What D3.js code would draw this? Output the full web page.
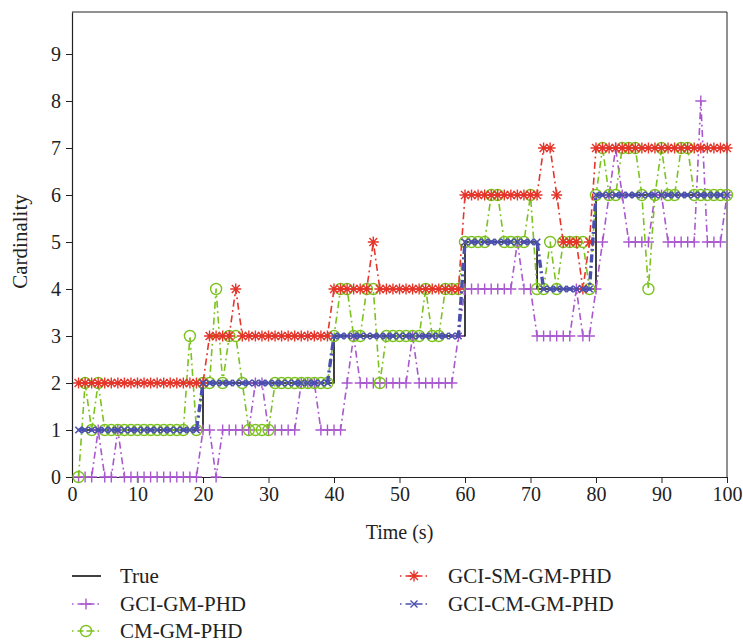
<!DOCTYPE html>
<html><head><meta charset="utf-8">
<script src="https://cdn.jsdelivr.net/npm/d3@7"></script>
<style>
body{margin:0;background:#fff;}
text{font-family:"Liberation Serif","Times New Roman",serif;fill:#222;}
</style>
</head><body>
<svg id="chart" width="743" height="644"></svg>
<script>
// ---------- data ----------
const timeSteps = [1,2,3,4,5,6,7,8,9,10,11,12,13,14,15,16,17,18,19,20,21,22,23,24,25,26,27,28,29,30,31,32,33,34,35,36,37,38,39,40,41,42,43,44,45,46,47,48,49,50,51,52,53,54,55,56,57,58,59,60,61,62,63,64,65,66,67,68,69,70,71,72,73,74,75,76,77,78,79,80,81,82,83,84,85,86,87,88,89,90,91,92,93,94,95,96,97,98,99,100];
const trueCard = [1,1,1,1,1,1,1,1,1,1, 1,1,1,1,1,1,1,1,1,2, 2,2,2,2,2,2,2,2,2,2, 2,2,2,2,2,2,2,2,2,3, 3,3,3,3,3,3,3,3,3,3, 3,3,3,3,3,3,3,3,3,5, 5,5,5,5,5,5,5,5,5,5, 4,4,4,4,4,4,4,4,4,6, 6,6,6,6,6,6,6,6,6,6, 6,6,6,6,6,6,6,6,6,6];
const gciGmPhd = [0,0,0,1,0,0,1,0,0,0, 0,0,0,0,0,0,0,0,0,1, 1,0,1,1,1,1,1,2,2,1, 1,1,1,1,2,2,2,1,1,1, 1,2,3,2,2,2,2,2,2,2, 2,3,2,2,2,2,2,2,3,4, 4,4,4,4,4,4,4,5,4,4, 3,3,3,3,3,3,4,3,3,4, 5,6,7,6,5,5,5,5,6,6, 5,5,5,5,5,8,5,5,5,6];
const cmGmPhd = [0,2,1,2,1,1,1,1,1,1, 1,1,1,1,1,1,1,3,1,2, 2,4,2,3,3,2,1,1,1,1, 2,2,2,2,2,2,2,2,2,3, 4,4,3,3,4,4,2,3,3,3, 3,3,3,4,3,3,4,4,4,5, 5,5,5,6,6,5,5,5,5,6, 4,4,5,4,5,5,5,5,4,6, 7,6,6,7,7,7,6,4,6,7, 6,6,7,7,6,6,6,6,6,6];
const gciSmGmPhd = [2,2,2,2,2,2,2,2,2,2, 2,2,2,2,2,2,2,2,2,2, 3,3,3,3,4,3,3,3,3,3, 3,3,3,3,3,3,3,3,3,4, 4,4,4,4,4,5,4,4,4,4, 4,4,4,4,4,4,4,4,4,6, 6,6,6,6,6,6,6,6,6,6, 6,7,7,6,5,5,5,4,5,7, 7,7,7,7,7,7,7,7,7,7, 7,7,7,7,7,7,7,7,7,7];
const gciCmGmPhd = [1,1,1,1,1,1,1,1,1,1, 1,1,1,1,1,1,1,1,1,2, 2,2,2,2,2,2,2,2,2,2, 2,2,2,2,2,2,2,2,2,3, 3,3,3,3,3,3,3,3,3,3, 3,3,3,3,3,3,3,3,3,5, 5,5,5,5,5,5,5,5,5,5, 5,4,4,4,4,4,4,4,4,6, 6,6,6,6,6,6,6,6,6,6, 6,6,6,6,6,6,6,6,6,6];
const xTicks = [0,10,20,30,40,50,60,70,80,90,100];
const yTicks = [0,1,2,3,4,5,6,7,8,9];
const seriesNames = ["True","GCI-GM-PHD","CM-GM-PHD","GCI-SM-GM-PHD","GCI-CM-GM-PHD"];
const seriesColors = ["#111111","#a957cf","#7cc21f","#e5352b","#4a4fae"];

// ---------- layout ----------
const svg = d3.select("#chart");
const L = 72, R = 727, B = 477, T = 12;
const x = d3.scaleLinear().domain([0,100]).range([L,R]);
const yUnit = 47;
const y = d3.scaleLinear().domain([0,9]).range([B, B-9*yUnit]);
const yAxisScale = d3.scaleLinear().domain([0,(B-T)/yUnit]).range([B,T]);

// frame
svg.append("line").attr("x1",L).attr("x2",R).attr("y1",T).attr("y2",T).attr("stroke","#222").attr("stroke-width",1);
svg.append("line").attr("x1",R).attr("x2",R).attr("y1",T).attr("y2",B).attr("stroke","#222").attr("stroke-width",1);

const gx = svg.append("g").attr("transform",`translate(0,${B})`)
  .call(d3.axisBottom(x).tickValues(xTicks).tickSize(6).tickSizeOuter(0).tickPadding(4));
const gy = svg.append("g").attr("transform",`translate(${L},0)`)
  .call(d3.axisLeft(yAxisScale).tickValues(yTicks).tickSize(6).tickSizeOuter(0).tickPadding(5));
[gx,gy].forEach(g=>{
  g.selectAll("path.domain").attr("stroke","#222").attr("stroke-width",1.2);
  g.selectAll(".tick line").attr("stroke","#222");
  g.selectAll(".tick text").attr("font-size",20).attr("font-family","Liberation Serif").attr("fill","#222");
});

svg.append("text").attr("x",(L+R)/2).attr("y",539).attr("text-anchor","middle")
  .attr("font-size",20).text("Time (s)");
svg.append("text").attr("transform",`translate(27,${(B+T)/2+ -3}) rotate(-90)`).attr("text-anchor","middle")
  .attr("font-size",21).text("Cardinality");

// ---------- markers ----------
const mk = {
  plus: s => `M${-s},0H${s}M0,${-s}V${s}`,
  cross: s => `M${-s},${-s}L${s},${s}M${-s},${s}L${s},${-s}`,
  star: s => { const d=s*0.72; return `M${-s},0H${s}M0,${-s}V${s}M${-d},${-d}L${d},${d}M${-d},${d}L${d},${-d}`; },
  circle: s => `M${s},0A${s},${s} 0 1,1 ${-s},0A${s},${s} 0 1,1 ${s},0Z`
};

const series = [
  {name:seriesNames[0], vals:trueCard,   color:seriesColors[0], width:1.6, dash:null, marker:null, step:true},
  {name:seriesNames[1], vals:gciGmPhd,   color:seriesColors[1], width:1.6, dash:"7,3.5,1.8,3.5", marker:"plus", ms:5.5},
  {name:seriesNames[2], vals:cmGmPhd,    color:seriesColors[2], width:1.6, dash:"7,3.5,1.8,3.5", marker:"circle", ms:5.5},
  {name:seriesNames[3], vals:gciSmGmPhd, color:seriesColors[3], width:1.6, dash:"7,3.5,1.8,3.5", marker:"star", ms:5.5},
  {name:seriesNames[4], vals:gciCmGmPhd, color:seriesColors[4], width:3.4, dash:"8,3.5,2,3.5", marker:"cross", ms:3.2}
];

const plot = svg.append("g");
series.forEach(s=>{
  const pts = timeSteps.map((t,i)=>[t,s.vals[i]]);
  const line = d3.line().x(d=>x(d[0])).y(d=>y(d[1])).curve(s.step?d3.curveStepAfter:d3.curveLinear);
  plot.append("path").datum(pts).attr("d",line).attr("fill","none")
    .attr("stroke",s.color).attr("stroke-width",s.width)
    .attr("stroke-dasharray",s.dash).attr("stroke-linejoin","round");
  if(s.marker){
    plot.append("g").selectAll("path").data(pts).join("path")
      .attr("transform",d=>`translate(${x(d[0])},${y(d[1])})`)
      .attr("d",mk[s.marker](s.ms)).attr("fill","none")
      .attr("stroke",s.color).attr("stroke-width", s.marker==="cross"?1.6:1.4);
  }
});

// ---------- legend ----------
const legPos = [[72,576],[72,604],[72,631],[400,576],[400,604]];
series.forEach((s,i)=>{
  const [lx,ly] = legPos[i];
  const g = svg.append("g").attr("transform",`translate(${lx},${ly})`);
  if(s.marker){
    g.append("line").attr("x1",0).attr("x2",29).attr("y1",0).attr("y2",0)
      .attr("stroke",s.color).attr("stroke-width",1.4).attr("stroke-dasharray","1.5,4,6,3,8,3");
    g.append("path").attr("transform","translate(14,0)").attr("d",mk[s.marker](s.marker==="cross"?3.5:5.5))
      .attr("fill","none").attr("stroke",s.color).attr("stroke-width",1.4);
  } else {
    g.append("line").attr("x1",0).attr("x2",29).attr("y1",0).attr("y2",0)
      .attr("stroke",s.color).attr("stroke-width",1.6);
  }
  g.append("text").attr("x",48).attr("y",7).attr("font-size",21).text(s.name);
});
</script>
</body></html>
